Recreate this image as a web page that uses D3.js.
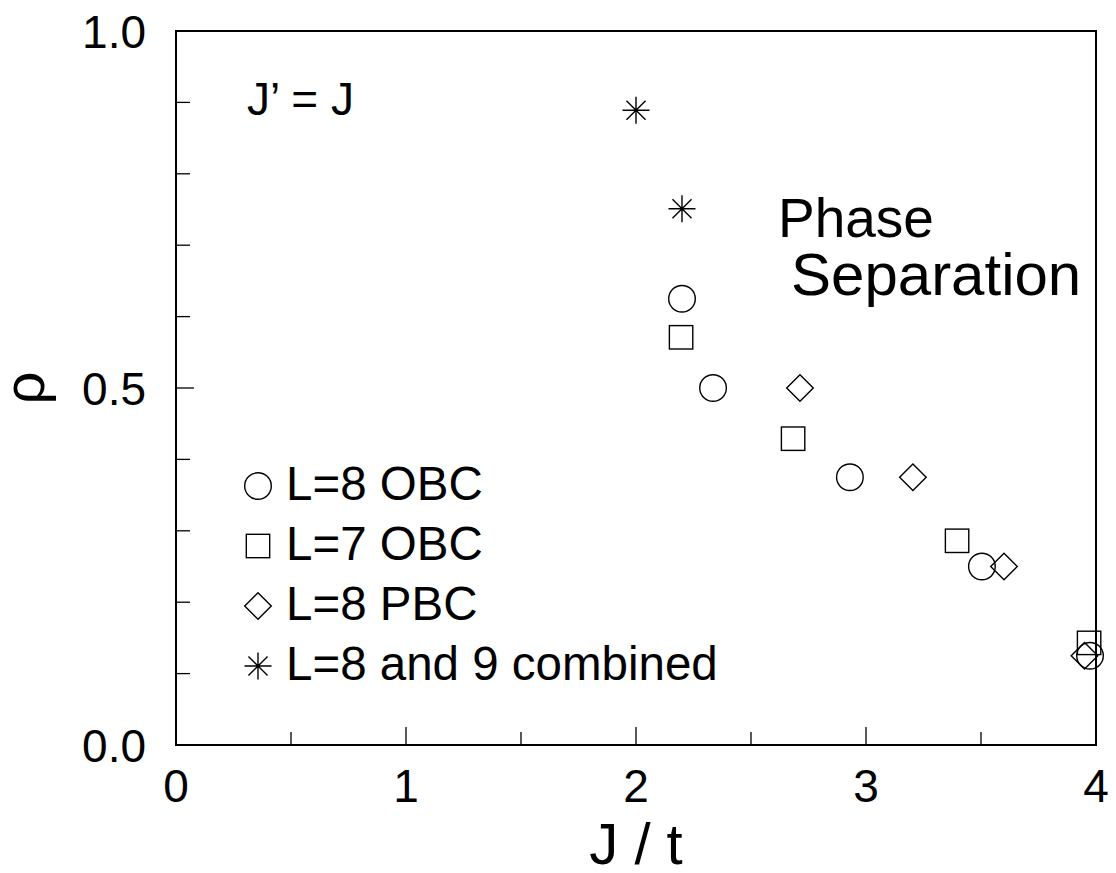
<!DOCTYPE html>
<html>
<head>
<meta charset="utf-8">
<script src="https://d3js.org/d3.v7.min.js"></script>
<style>
  body { margin: 0; background: #fff; }
  text { font-family: "Liberation Sans", Arial, sans-serif; fill: #000; }
</style>
</head>
<body>
<div id="graph"></div>
<script>
// data
var obc8X = [2.2, 2.335, 2.93, 3.504, 3.974];
var obc8Y = [0.625, 0.5, 0.375, 0.25, 0.125];
var obc7X = [2.196, 2.683, 3.396, 3.97];
var obc7Y = [0.571, 0.429, 0.286, 0.143];
var pbc8X = [2.713, 3.204, 3.6, 3.95];
var pbc8Y = [0.5, 0.375, 0.25, 0.125];
var combX = [2.0, 2.2];
var combY = [0.889, 0.751];

var xTicks = [0, 1, 2, 3, 4];
var xMinor = [0.5, 1.5, 2.5, 3.5];
var yTicks = [0, 0.5, 1.0];
var yMinor = [0.1, 0.2, 0.3, 0.4, 0.6, 0.7, 0.8, 0.9];
var yTickLabels = ["0.0", "0.5", "1.0"];
var legendLabels = ["L=8 OBC", "L=7 OBC", "L=8 PBC", "L=8 and 9 combined"];
var legendShapes = ["circle", "square", "diamond", "star"];

var width = 1116, height = 873;
var plotLeft = 176, plotRight = 1096, plotTop = 31, plotBottom = 745;

var svg = d3.select("#graph").append("svg")
  .attr("width", width).attr("height", height);

var x = d3.scaleLinear().domain([0, 4]).range([plotLeft, plotRight]);
var y = d3.scaleLinear().domain([0, 1]).range([plotBottom, plotTop]);

// frame
svg.append("rect")
  .attr("x", plotLeft).attr("y", plotTop)
  .attr("width", plotRight - plotLeft).attr("height", plotBottom - plotTop)
  .attr("fill", "none").attr("stroke", "#000").attr("stroke-width", 2);

// inward ticks
svg.selectAll(".xmaj").data(xTicks.slice(1, -1)).enter().append("line")
  .attr("x1", d => x(d)).attr("x2", d => x(d))
  .attr("y1", plotBottom).attr("y2", plotBottom - 18)
  .attr("stroke", "#000").attr("stroke-width", 1.3);
svg.selectAll(".xmin").data(xMinor).enter().append("line")
  .attr("x1", d => x(d)).attr("x2", d => x(d))
  .attr("y1", plotBottom).attr("y2", plotBottom - 13)
  .attr("stroke", "#000").attr("stroke-width", 1.3);
svg.selectAll(".ymaj").data([0.5]).enter().append("line")
  .attr("x1", plotLeft).attr("x2", plotLeft + 18)
  .attr("y1", d => y(d)).attr("y2", d => y(d))
  .attr("stroke", "#000").attr("stroke-width", 1.3);
svg.selectAll(".ymin").data(yMinor).enter().append("line")
  .attr("x1", plotLeft).attr("x2", plotLeft + 14)
  .attr("y1", d => y(d)).attr("y2", d => y(d))
  .attr("stroke", "#000").attr("stroke-width", 1.3);

// tick labels
svg.selectAll(".xlab").data(xTicks).enter().append("text")
  .attr("x", d => x(d)).attr("y", plotBottom + 57)
  .attr("text-anchor", "middle").attr("font-size", 46)
  .text(d => d);
svg.selectAll(".ylab").data(yTicks).enter().append("text")
  .attr("x", 146).attr("y", d => y(d) + 17)
  .attr("text-anchor", "end").attr("font-size", 46)
  .text((d, i) => yTickLabels[i]);

// axis titles
svg.append("text")
  .attr("x", x(2)).attr("y", 864)
  .attr("text-anchor", "middle").attr("font-size", 58)
  .text("J / t");
svg.append("text")
  .attr("transform", "translate(44," + y(0.5) + ") rotate(-90)")
  .attr("text-anchor", "middle").attr("font-size", 58)
  .text("ρ");

// annotations
svg.append("text").attr("x", 247).attr("y", 115).attr("font-size", 46).text("J’ = J");
svg.append("text").attr("x", 778).attr("y", 237).attr("font-size", 55).text("Phase");
svg.append("text").attr("x", 791).attr("y", 295).attr("font-size", 60).text("Separation");

// marker drawing
function marker(g, shape, cx, cy) {
  var s = "#000", sw = 1.4;
  if (shape === "circle") {
    g.append("circle").attr("cx", cx).attr("cy", cy).attr("r", 13.3)
      .attr("fill", "none").attr("stroke", s).attr("stroke-width", sw);
  } else if (shape === "square") {
    g.append("rect").attr("x", cx - 11.7).attr("y", cy - 11.7)
      .attr("width", 23.4).attr("height", 23.4)
      .attr("fill", "none").attr("stroke", s).attr("stroke-width", sw);
  } else if (shape === "diamond") {
    var r = 13.3;
    g.append("path")
      .attr("d", "M" + cx + "," + (cy - r) + "L" + (cx + r) + "," + cy + "L" + cx + "," + (cy + r) + "L" + (cx - r) + "," + cy + "Z")
      .attr("fill", "none").attr("stroke", s).attr("stroke-width", sw);
  } else {
    var r = 13.5, d = r * Math.SQRT1_2;
    g.append("path")
      .attr("d", "M" + (cx - r) + "," + cy + "L" + (cx + r) + "," + cy +
        "M" + cx + "," + (cy - r) + "L" + cx + "," + (cy + r) +
        "M" + (cx - d) + "," + (cy - d) + "L" + (cx + d) + "," + (cy + d) +
        "M" + (cx - d) + "," + (cy + d) + "L" + (cx + d) + "," + (cy - d))
      .attr("fill", "none").attr("stroke", s).attr("stroke-width", sw);
  }
}

var pts = svg.append("g");
var series = [[obc8X, obc8Y, "circle"], [obc7X, obc7Y, "square"], [pbc8X, pbc8Y, "diamond"], [combX, combY, "star"]];
series.forEach(function(sr) {
  sr[0].forEach(function(v, i) { marker(pts, sr[2], x(v), y(sr[1][i])); });
});

// legend
var leg = svg.append("g");
legendLabels.forEach(function(lab, i) {
  marker(leg, legendShapes[i], 258, 486 + i * 60);
  leg.append("text").attr("x", 286).attr("y", 500 + i * 60)
    .attr("font-size", 47.5).text(lab);
});
</script>
</body>
</html>
